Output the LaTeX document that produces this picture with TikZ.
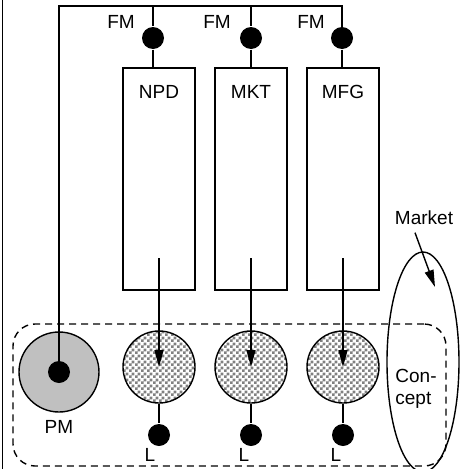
\documentclass[tikz,border=0pt]{standalone}
\usepackage{fontspec}
\setmainfont{Liberation Sans}
\usetikzlibrary{patterns,arrows.meta,shapes.geometric}
\definecolor{pmgray}{RGB}{192,192,192}
\pgfdeclarepatternformonly{finechecks}{\pgfqpoint{0pt}{0pt}}{\pgfqpoint{5.6pt}{5.6pt}}{\pgfqpoint{5.6pt}{5.6pt}}{%
  \pgfpathrectangle{\pgfqpoint{0pt}{0pt}}{\pgfqpoint{2.8pt}{2.8pt}}%
  \pgfpathrectangle{\pgfqpoint{2.8pt}{2.8pt}}{\pgfqpoint{2.8pt}{2.8pt}}%
  \pgfusepath{fill}}
\begin{document}
\begin{tikzpicture}[x=1pt,y=-1pt,line width=1.4pt,
  every node/.style={font=\fontsize{19}{22}\selectfont,inner sep=0pt},
  dot/.style={circle,fill=black,minimum size=22pt},
  unit/.style={draw,minimum width=72pt,minimum height=222pt},
  member/.style={draw,circle,minimum size=72pt,pattern=finechecks,pattern color=black!50},
  tip/.style={-{Triangle[length=17pt,width=9pt]}}]
\useasboundingbox (0,0) rectangle (460,469);
\draw (2.5,0) -- (2.5,469);
% functional units
\node[unit] (npd) at (159,179) {};
\node[unit] (mkt) at (251,179) {};
\node[unit] (mfg) at (343,179) {};
\node (npdlbl) at (159,92) {NPD};
\node (mktlbl) at (251,92) {MKT};
\node (mfglbl) at (343,92) {MFG};
% functional managers
\node[dot] (fm1) at (153,38) {};
\node[dot] (fm2) at (251,38) {};
\node[dot] (fm3) at (342,38) {};
\node (fm1lbl) at (121,22) {FM};
\node (fm2lbl) at (217,22) {FM};
\node (fm3lbl) at (311,22) {FM};
% team
\node[draw,dash pattern=on 7pt off 5pt,rounded corners=22pt,minimum width=433pt,minimum height=142pt] (team) at (229.5,395) {};
\node[draw,circle,fill=pmgray,minimum size=80pt] (pm) at (59,372) {};
\node[dot] (pmdot) at (59,372) {};
\node (pmlbl) at (59,427) {PM};
\node[member] (c1) at (159,367) {};
\node[member] (c2) at (251,367) {};
\node[member] (c3) at (343,367) {};
\node[dot] (l1) at (159,435) {};
\node[dot] (l2) at (251,435) {};
\node[dot] (l3) at (343,435) {};
\node (l1lbl) at (150,455) {L};
\node (l2lbl) at (244,455) {L};
\node (l3lbl) at (336,455) {L};
\coordinate (top) at (59,6);
\coordinate (a1) at (159,258);
\coordinate (a2) at (251,258);
\coordinate (a3) at (343,258);
\draw (pmdot.center) -- (top) -| (fm3.center);
\draw (fm1 |- top) -- (fm1) -- (fm1 |- npd.north);
\draw (fm2 |- top) -- (fm2) -- (fm2 |- mkt.north);
\draw (fm3) -- (fm3 |- mfg.north);
\foreach \u/\v in {a1/c1,a2/c2,a3/c3}
  \draw[tip] (\u) -- (\v.center);
\foreach \u/\v in {c1/l1,c2/l2,c3/l3}
  \draw (\u) -- (\v);
% market
\node[draw,ellipse,minimum width=72pt,minimum height=220pt] (market) at (423,362) {};
\node (mlbl) at (424,218) {Market};
\coordinate (mpt) at (435,287);
\draw[tip] ([xshift=-9pt,yshift=-7pt]mlbl.south) -- (mpt);
\node[align=left] (concept) at (416,389) {Con-\\cept};
\end{tikzpicture}
\end{document}
